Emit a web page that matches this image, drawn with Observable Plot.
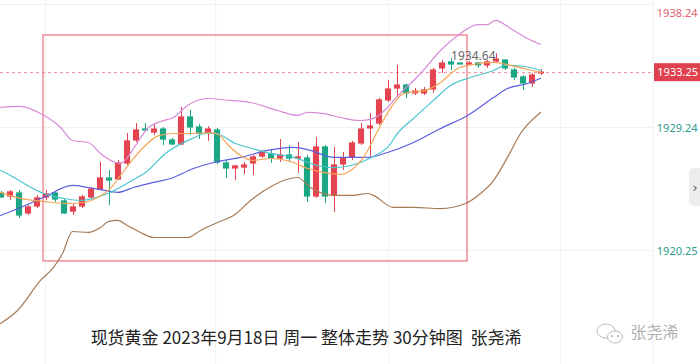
<!DOCTYPE html>
<html><head><meta charset="utf-8">
<script src="https://cdn.jsdelivr.net/npm/d3@7"></script>
<script src="https://cdn.jsdelivr.net/npm/@observablehq/plot@0.6"></script>
<style>
body{margin:0;background:#fff;}
#chart{position:relative;width:700px;height:364px;overflow:hidden;}
</style>
</head><body><div id="chart"></div>
<script>
// ---- Data (30-minute candles, XAU/USD, 2023-09-18) ----
const opens = [1924.41,1924.19,1924.41,1922.95,1923.46,1924.12,1924.41,1923.83,1923.09,1923.46,1924.12,1924.70,1925.51,1925.44,1926.61,1928.29,1929.09,1928.87,1929.09,1928.29,1928.00,1929.97,1929.24,1928.80,1929.02,1926.61,1926.24,1926.31,1926.61,1927.12,1927.26,1926.97,1927.19,1926.97,1926.97,1924.19,1927.78,1924.27,1926.53,1927.05,1928.07,1929.17,1929.53,1931.22,1932.09,1932.31,1931.73,1931.73,1932.02,1933.56,1934.00,1933.92,1933.85,1933.92,1933.78,1934.07,1934.14,1933.41,1932.90,1932.46,1933.19];
const highs = [1924.56,1924.63,1924.63,1923.53,1924.27,1924.63,1924.56,1923.97,1923.61,1924.27,1924.85,1926.68,1926.09,1926.83,1928.80,1929.53,1929.53,1929.46,1929.24,1928.44,1930.70,1930.48,1929.46,1929.31,1929.17,1926.83,1926.46,1926.68,1927.19,1927.56,1927.63,1928.36,1927.92,1928.14,1927.19,1928.51,1927.92,1927.78,1927.41,1928.22,1929.53,1930.26,1931.36,1932.68,1933.78,1932.39,1932.09,1932.17,1933.56,1934.14,1934.29,1933.92,1934.07,1934.00,1934.14,1934.64,1934.21,1933.56,1933.04,1933.19,1933.48];
const lows = [1924.05,1923.90,1922.58,1922.80,1923.31,1923.90,1923.75,1922.88,1922.80,1923.31,1923.97,1924.63,1923.53,1925.36,1926.46,1928.14,1928.95,1928.65,1927.92,1927.92,1927.92,1928.65,1928.36,1928.22,1926.53,1925.51,1925.36,1925.80,1925.73,1926.97,1926.61,1926.68,1926.68,1925.87,1923.75,1924.05,1923.68,1923.02,1926.09,1926.83,1927.92,1927.05,1929.39,1931.07,1931.43,1931.36,1931.58,1931.58,1931.73,1933.19,1933.41,1933.85,1933.78,1933.56,1933.56,1934.00,1933.41,1932.68,1931.95,1932.17,1933.04];
const closes = [1924.12,1924.49,1922.80,1923.39,1924.05,1924.34,1923.97,1922.95,1923.39,1924.12,1924.70,1925.51,1925.36,1926.61,1928.22,1929.02,1929.02,1929.09,1928.36,1928.00,1929.97,1929.24,1928.80,1929.09,1926.68,1926.24,1926.39,1926.46,1927.05,1927.41,1926.97,1927.19,1926.97,1927.05,1924.19,1927.78,1924.19,1926.46,1926.97,1928.07,1929.09,1929.31,1931.22,1932.02,1932.31,1931.73,1931.87,1931.95,1933.41,1933.92,1933.85,1933.85,1933.92,1933.78,1934.00,1934.21,1933.56,1932.90,1932.46,1933.04,1933.25];

// Indicator lines: [candle index, price]
const bollUpper = [[-0.11,1930.70],[2.11,1930.78],[4.33,1930.26],[6.56,1929.24],[7.89,1928.29],[9.67,1928.14],[11.0,1927.34],[12.67,1926.68],[13.22,1926.61],[14.89,1927.92],[16.22,1929.17],[17.67,1929.68],[19.11,1929.97],[20.67,1930.85],[22.89,1931.36],[25.44,1931.22],[27.67,1931.07],[30.67,1930.48],[32.89,1930.12],[34.0,1930.34],[35.78,1930.26],[37.67,1929.97],[39.89,1929.75],[41.0,1929.83],[42.89,1930.70],[43.56,1931.22],[46.56,1933.19],[48.78,1934.87],[51.0,1936.12],[52.89,1936.77],[54.0,1936.77],[54.89,1937.07],[56.56,1936.48],[58.44,1935.75],[59.89,1935.31]];
const bollLower = [[-0.11,1914.90],[1.78,1915.85],[4.33,1918.05],[5.78,1919.00],[6.78,1920.02],[7.89,1921.63],[9.67,1921.56],[11.0,1921.92],[11.89,1922.36],[12.89,1922.44],[14.0,1922.07],[15.44,1921.56],[16.89,1921.19],[18.78,1921.19],[20.67,1921.19],[22.11,1921.71],[24.0,1922.29],[25.78,1922.80],[27.67,1923.90],[29.56,1924.78],[32.11,1925.51],[32.89,1925.58],[34.33,1924.85],[36.89,1924.27],[39.11,1924.27],[40.67,1924.41],[41.33,1924.27],[43.56,1923.39],[45.78,1923.39],[48.78,1923.31],[51.56,1923.68],[53.22,1924.41],[54.67,1925.36],[56.22,1927.05],[57.67,1928.80],[59.89,1930.34]];
const maSlow = [[-0.11,1922.80],[2.11,1923.39],[4.67,1924.12],[7.89,1925.00],[9.67,1924.85],[11.0,1924.70],[12.89,1924.49],[14.67,1924.85],[16.89,1925.22],[18.78,1925.51],[21.33,1926.24],[23.56,1926.68],[26.56,1927.05],[29.56,1927.56],[32.44,1927.78],[34.33,1927.56],[36.89,1927.05],[40.67,1927.05],[42.89,1927.41],[45.78,1928.14],[48.78,1929.17],[51.78,1930.12],[54.67,1931.43],[56.22,1932.09],[58.44,1932.46],[59.89,1932.82]];
const maMid = [[-0.11,1926.09],[1.0,1925.73],[2.89,1925.00],[4.67,1924.41],[6.89,1924.05],[8.78,1923.90],[10.22,1924.05],[11.78,1924.41],[13.56,1925.00],[14.89,1925.51],[16.0,1925.95],[18.22,1927.34],[21.22,1928.44],[22.67,1928.80],[23.78,1928.80],[26.0,1928.07],[27.89,1927.70],[29.89,1927.34],[32.44,1927.05],[35.11,1926.46],[36.89,1926.31],[39.89,1926.68],[42.11,1927.41],[42.89,1927.78],[44.0,1928.80],[45.78,1929.90],[48.0,1931.22],[49.89,1932.31],[52.11,1932.90],[54.67,1933.41],[56.0,1933.78],[58.0,1933.70],[60.0,1933.41]];
const maFast = [[-0.11,1924.49],[2.11,1924.05],[4.67,1923.83],[7.33,1923.68],[9.11,1923.75],[10.67,1924.12],[12.11,1924.78],[13.22,1925.73],[14.67,1926.97],[16.22,1928.07],[17.44,1928.65],[19.33,1928.80],[21.22,1928.80],[23.22,1928.87],[24.11,1928.73],[25.22,1927.92],[26.56,1927.19],[27.89,1926.83],[29.89,1926.97],[32.11,1926.75],[34.0,1926.24],[35.78,1925.95],[37.67,1925.80],[38.78,1926.09],[40.22,1927.05],[42.11,1929.39],[43.44,1930.85],[44.67,1931.73],[47.11,1931.95],[48.78,1932.53],[50.67,1933.56],[52.44,1933.85],[54.67,1934.00],[56.56,1933.78],[58.44,1933.48],[60.0,1933.26]];

const axisTicks = [1938.24, 1929.24, 1920.25];
const axisTickColors = ["#e0636d", "#2a9d8f", "#2a9d8f"];
const timeGrid = [4.9, 23.8, 43.0, 62.1];
const lastPrice = 1933.25;
const highMark = {i: 55, price: 1934.64, label: "1934.64"};
const boxRange = {i1: 4.67, i2: 51.78, p1: 1919.44, p2: 1935.97};
const caption = "现货黄金 2023年9月18日 周一 整体走势 30分钟图  张尧浠";
const watermark = "张尧浠";

// ---- Build ----
const RED = "#e5434f", GREEN = "#1ba784";
const candles = opens.map((o, i) => ({i, o, h: highs[i], l: lows[i], c: closes[i], up: closes[i] >= o}));
const toObj = arr => arr.map(([i, v]) => ({i, v}));

function overlay(index, scales, values, dimensions) {
  const g = d3.create("svg:g");
  const W = dimensions.width, H = dimensions.height;
  const xr = W - dimensions.marginRight;
  const y = scales.y(lastPrice);
  g.append("line").attr("x1", xr).attr("x2", xr).attr("y1", 0).attr("y2", H).attr("stroke", "#f0f0f0");
  g.append("rect").attr("x", xr + 1).attr("y", y - 9).attr("width", W - xr).attr("height", 18).attr("fill", "#e0414e");
  g.append("text").attr("x", W - 2).attr("y", y).attr("dy", "0.36em").attr("text-anchor", "end")
    .attr("fill", "#fff").attr("font-size", 11).attr("font-family", "Noto Sans, sans-serif").text(lastPrice.toFixed(2));
  // collapse button
  g.append("rect").attr("x", W - 11).attr("y", 168).attr("width", 20).attr("height", 38).attr("rx", 5).attr("fill", "#ececec");
  g.append("text").attr("x", W - 5).attr("y", 187).attr("dy", "0.36em").attr("text-anchor", "middle")
    .attr("fill", "#555").attr("font-size", 13).attr("font-family", "DejaVu Sans, sans-serif").text("›");
  // wechat-like icon
  const ic = g.append("g").attr("fill", "#fff").attr("stroke", "#bbb").attr("stroke-width", 1);
  ic.append("ellipse").attr("cx", 606).attr("cy", 331).attr("rx", 9).attr("ry", 7);
  ic.append("ellipse").attr("cx", 615).attr("cy", 337).attr("rx", 7.5).attr("ry", 6);
  ic.append("circle").attr("cx", 612).attr("cy", 336).attr("r", 0.8).attr("fill", "#bbb");
  ic.append("circle").attr("cx", 618).attr("cy", 336).attr("r", 0.8).attr("fill", "#bbb");
  return g.node();
}

const chart = Plot.plot({
  width: 700,
  height: 364,
  marginTop: 0, marginBottom: 0, marginLeft: 0, marginRight: 47,
  style: {background: "#fff", overflow: "visible"},
  x: {type: "linear", domain: [-0.111, 72.444], axis: null},
  y: {domain: [1911.90, 1938.53], axis: null},
  marks: [
    Plot.ruleY(axisTicks, {stroke: "#f2f2f2", strokeWidth: 1}),
    Plot.ruleX(timeGrid, {stroke: "#f2f2f2", strokeWidth: 1}),
    Plot.ruleY([lastPrice], {stroke: "#f08a96", strokeDasharray: "3,3", strokeWidth: 1}),
    Plot.rect([boxRange], {x1: "i1", x2: "i2", y1: "p1", y2: "p2", fill: "none", stroke: "#f0707e", strokeWidth: 1.2}),
    Plot.ruleX(candles, {x: "i", y1: "l", y2: "h", stroke: d => d.up ? RED : GREEN, strokeWidth: 1}),
    Plot.rect(candles, {x1: d => d.i - 0.34, x2: d => d.i + 0.34, y1: "o", y2: "c",
      fill: d => d.up ? RED : GREEN, insetTop: -0.6, insetBottom: -0.6}),
    Plot.line(toObj(bollUpper), {x: "i", y: "v", stroke: "#d78ad6", strokeWidth: 1.2, curve: "monotone-x"}),
    Plot.line(toObj(bollLower), {x: "i", y: "v", stroke: "#a67a55", strokeWidth: 1.2, curve: "monotone-x"}),
    Plot.line(toObj(maSlow), {x: "i", y: "v", stroke: "#5b5fe0", strokeWidth: 1.2, curve: "monotone-x"}),
    Plot.line(toObj(maMid), {x: "i", y: "v", stroke: "#4cc6cf", strokeWidth: 1.2, curve: "monotone-x"}),
    Plot.line(toObj(maFast), {x: "i", y: "v", stroke: "#f6a455", strokeWidth: 1.2, curve: "monotone-x"}),
    Plot.text([highMark], {x: "i", y: "price", text: "label", textAnchor: "end", dx: -1, dy: 2,
      fill: "#666", fontSize: 12, fontFamily: "Noto Sans, sans-serif"}),
    Plot.text(axisTicks.slice(0, 1), {y: d => d, text: d => d.toFixed(2), frameAnchor: "right", dx: 44, dy: 9,
      textAnchor: "end", fill: axisTickColors[0], fontSize: 11, fontFamily: "Noto Sans, sans-serif"}),
    Plot.text(axisTicks.slice(1), {y: d => d, text: d => d.toFixed(2), frameAnchor: "right", dx: 44, dy: 1,
      textAnchor: "end", fill: axisTickColors[1], fontSize: 11, fontFamily: "Noto Sans, sans-serif"}),
    overlay,
    Plot.text([caption], {frameAnchor: "bottom", dx: -21, dy: -21, text: d => d, fill: "#222",
      fontSize: 17, fontFamily: "Noto Sans CJK SC, sans-serif"}),
    Plot.text([watermark], {frameAnchor: "bottom-right", dx: 25, dy: -27, text: d => d, textAnchor: "end", fill: "#b0b0b0",
      fontSize: 16, fontFamily: "Noto Sans CJK SC, sans-serif"})
  ]
});
document.getElementById("chart").appendChild(chart);
</script>
</body></html>
